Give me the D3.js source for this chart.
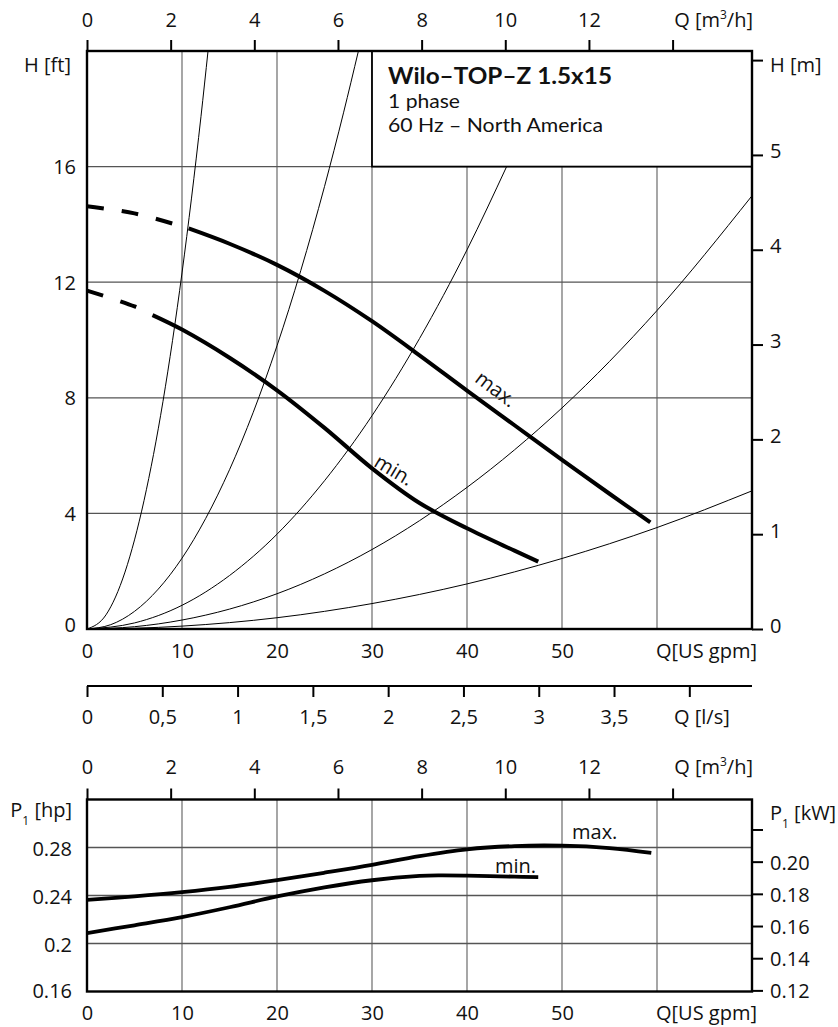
<!DOCTYPE html>
<html><head><meta charset="utf-8">
<script src="https://cdn.jsdelivr.net/npm/d3@7"></script>
<style>
body{margin:0;background:#fff}
svg{display:block;font-family:"Open Sans",sans-serif}
</style></head><body>
<svg id="c" width="838" height="1027"></svg>
<script>
// ---------- data ----------
const gpmLabels=[0,10,20,30,40,50];
const gpmGrid=[10,20,30,40,50,60];
const m3hTicks=[0,2,4,6,8,10,12,14];
const m3hLabels=["0","2","4","6","8","10","12",""];
const lsTicks=[0,0.5,1,1.5,2,2.5,3,3.5,4];
const lsLabels=["0","0,5","1","1,5","2","2,5","3","3,5",""];
const ftTicks=[0,4,8,12,16];
const ftGrid=[4,8,12,16];
const mTicks=[0,1,2,3,4,5,6];
const mLabels=["0","1","2","3","4","5",""];
const hpTicks=[0.16,0.2,0.24,0.28];
const hpGrid=[0.2,0.24,0.28];
const kwTicks=[0.12,0.14,0.16,0.18,0.20,0.22];
const kwLabels=["0.12","0.14","0.16","0.18","0.20",""];
const legendLines=["Wilo–TOP–Z 1.5x15","1 phase","60 Hz – North America"];

// pump head curves (US gpm, ft)
const maxQ=[0,5,10,10.7,15,20,25,30,35,40,45,50,55,59.3];
const maxH=[14.63,14.38,13.93,13.86,13.33,12.6,11.7,10.65,9.47,8.25,7.05,5.85,4.68,3.69];
const maxDashEnd=10.7;
const minQ=[0,5,6.9,10,15,20,25,30,35,40,45,47.5];
const minH=[11.71,11.16,10.86,10.36,9.385,8.26,6.96,5.56,4.36,3.485,2.71,2.33];
const minDashEnd=6.9;

// system curves (US gpm, ft)
const s1Q=[0,2,4,6,8,10,11,12,12.74];
const s1H=[0,0.49,1.97,4.44,7.88,12.32,14.91,17.74,20];
const s2Q=[0,2.5,5,7.5,10,12.5,15,17.5,20,22.5,25,27,28.57];
const s2H=[0,0.15,0.61,1.38,2.45,3.83,5.51,7.5,9.8,12.4,15.31,17.86,20];
const s3Q=[0,5,10,15,20,25,30,35,40,44.17];
const s3H=[0,0.21,0.82,1.85,3.28,5.13,7.38,10.05,13.12,16];
const s4Q=[0,5,10,20,30,40,50,60,70];
const s4H=[0,0.08,0.31,1.22,2.75,4.9,7.65,11.02,14.99];
const s5Q=[0,5,10,20,30,40,50,60,70];
const s5H=[0,0.025,0.1,0.39,0.88,1.56,2.44,3.51,4.78];

// power curves (US gpm, hp)
const pMaxQ=[0,5,10,15,20,25,30,35,40,45,50,55,59.4];
const pMaxP=[0.2364,0.2393,0.2428,0.2472,0.2528,0.259,0.2655,0.2728,0.2785,0.2812,0.2815,0.2795,0.2755];
const pMinQ=[0,5,10,15,20,25,30,35,37,40,45,47.5];
const pMinP=[0.2087,0.2152,0.222,0.2302,0.2392,0.2468,0.2527,0.2563,0.2568,0.2566,0.2557,0.2553];

// ---------- scales ----------
const L=87,R=752;
const UT=51,UB=629, LT=799.5,LB=991.5, LSY=686;
const x=d3.scaleLinear().domain([0,70]).range([L,R]);
const xm3=d3.scaleLinear().domain([0,70*0.22712]).range([L,R]);
const xls=d3.scaleLinear().domain([0,70*0.06309]).range([L,R]);
const yft=d3.scaleLinear().domain([0,20]).range([UB,UT]);
const ym=d3.scaleLinear().domain([0,20*0.3048]).range([UB,UT]);
const yhp=d3.scaleLinear().domain([0.16,0.32]).range([LB,LT]);
const ykw=d3.scaleLinear().domain([0.16*0.7457,0.32*0.7457]).range([LB,LT]);

const svg=d3.select("#c");
const FS=20, INK="#111";
const defs=svg.append("defs");
defs.append("clipPath").attr("id","cu").append("rect").attr("x",L).attr("y",UT).attr("width",R-L).attr("height",UB-UT);
defs.append("clipPath").attr("id","cl").append("rect").attr("x",L).attr("y",LT).attr("width",R-L).attr("height",LB-LT);

function styleAxis(g){
  g.select(".domain").remove();
  g.selectAll(".tick line").attr("stroke","#000").attr("stroke-width",2);
  g.selectAll(".tick text").attr("fill",INK).style("font-size",FS+"px").style("font-family","'Open Sans',sans-serif");
}
function unitLabel(parent,xp,yp,anchor,parts){
  const t=parent.append("text").attr("x",xp).attr("y",yp).attr("text-anchor",anchor)
    .attr("fill",INK).style("font-size",FS+"px");
  parts.forEach(p=>{
    const ts=t.append("tspan").text(p.t);
    if(p.sup){ts.style("font-size","12px").attr("dy",-8);}
    else if(p.sub){ts.style("font-size","12px").attr("dy",8);}
    if(p.back) ts.attr("dy",p.back);
  });
  return t;
}

// ================= UPPER CHART =================
const up=svg.append("g");
up.append("g").selectAll("line").data(gpmGrid).join("line")
  .attr("x1",d=>x(d)).attr("x2",d=>x(d)).attr("y1",UT).attr("y2",UB)
  .attr("stroke","#777").attr("stroke-width",1.3);
up.append("g").selectAll("line").data(ftGrid).join("line")
  .attr("x1",L).attr("x2",R).attr("y1",d=>yft(d)).attr("y2",d=>yft(d))
  .attr("stroke","#555").attr("stroke-width",1.3);

// system curves
const sysLine=d3.line().x(d=>x(d[0])).y(d=>yft(d[1])).curve(d3.curveMonotoneX);
const sysSets=[[s1Q,s1H],[s2Q,s2H],[s3Q,s3H],[s4Q,s4H],[s5Q,s5H]];
up.append("g").attr("clip-path","url(#cu)").selectAll("path").data(sysSets).join("path")
  .attr("d",s=>sysLine(s[0].map((q,i)=>[q,s[1][i]])))
  .attr("fill","none").attr("stroke","#000").attr("stroke-width",1);

// pump curves
const pumpLine=d3.line().x(d=>x(d[0])).y(d=>yft(d[1])).curve(d3.curveCatmullRom.alpha(0.5));
function drawPump(Q,H,dashEnd){
  const pts=Q.map((q,i)=>[q,H[i]]);
  const dash=pts.filter(p=>p[0]<=dashEnd), solid=pts.filter(p=>p[0]>=dashEnd);
  up.append("path").attr("d",pumpLine(dash)).attr("fill","none").attr("stroke","#000")
    .attr("stroke-width",4).attr("stroke-dasharray","17,18");
  up.append("path").attr("d",pumpLine(solid)).attr("fill","none").attr("stroke","#000")
    .attr("stroke-width",4);
}
drawPump(maxQ,maxH,maxDashEnd);
drawPump(minQ,minH,minDashEnd);

up.append("text").attr("transform","translate(496,389) rotate(37)").attr("text-anchor","middle")
  .attr("dy","0.35em").attr("fill",INK).style("font-size",FS+"px").text("max.");
up.append("text").attr("transform","translate(394,470) rotate(31)").attr("text-anchor","middle")
  .attr("dy","0.35em").attr("fill",INK).style("font-size",FS+"px").text("min.");

// legend box
const bx=x(30), by=yft(20);
up.append("rect").attr("x",bx).attr("y",by).attr("width",R-bx).attr("height",yft(16)-by)
  .attr("fill","#fff").attr("stroke","#000").attr("stroke-width",1.8);
up.append("text").attr("x",bx+16).attr("y",84).attr("fill",INK)
  .style("font-family","Lato,sans-serif").style("font-size","22px").style("font-weight","bold")
  .attr("textLength",224).attr("lengthAdjust","spacingAndGlyphs").text(legendLines[0]);
up.append("text").attr("x",bx+16).attr("y",107.5).attr("fill",INK)
  .style("font-family","Lato,sans-serif").style("font-size","19px")
  .attr("textLength",72).attr("lengthAdjust","spacingAndGlyphs").text(legendLines[1]);
up.append("text").attr("x",bx+16).attr("y",132).attr("fill",INK)
  .style("font-family","Lato,sans-serif").style("font-size","19px")
  .attr("textLength",215).attr("lengthAdjust","spacingAndGlyphs").text(legendLines[2]);

// frame
up.append("rect").attr("x",L).attr("y",UT).attr("width",R-L).attr("height",UB-UT)
  .attr("fill","none").attr("stroke","#000").attr("stroke-width",2.4);

// top m3/h axis
up.append("g").attr("transform",`translate(0,${UT})`)
  .call(d3.axisTop(xm3).tickValues(m3hTicks).tickSize(11).tickFormat((d,i)=>m3hLabels[i]))
  .call(styleAxis).call(g=>g.selectAll(".tick text").attr("y",-24.5).attr("dy","0"));
unitLabel(up,753,26.5,"end",[{t:"Q [m"},{t:"3",sup:true},{t:"/h]",back:8}]);

// left ft axis
up.append("g").attr("transform",`translate(${L},0)`)
  .call(d3.axisLeft(yft).tickValues(ftTicks).tickSize(0).tickFormat(d3.format("d")))
  .call(styleAxis)
  .call(g=>g.selectAll(".tick text").attr("x",-11).attr("dy","0").attr("y",d=>d===0?2.7:7));
unitLabel(up,71,71.5,"end",[{t:"H [ft]"}]);

// right m axis
up.append("g").attr("transform",`translate(${R},0)`)
  .call(d3.axisRight(ym).tickValues(mTicks).tickSize(11).tickFormat((d,i)=>mLabels[i]))
  .call(styleAxis)
  .call(g=>g.selectAll(".tick text").attr("x",18).attr("dy","0").attr("y",3));
unitLabel(up,770,72,"start",[{t:"H [m]"}]);

// bottom gpm axis
up.append("g").attr("transform",`translate(0,${UB})`)
  .call(d3.axisBottom(x).tickValues(gpmLabels).tickSize(0).tickFormat(d3.format("d")))
  .call(styleAxis)
  .call(g=>g.selectAll(".tick text").attr("y",29).attr("dy","0"));
unitLabel(up,757,658,"end",[{t:"Q[US gpm]"}]);

// l/s axis
const ls=svg.append("g").attr("transform",`translate(0,${LSY})`)
  .call(d3.axisBottom(xls).tickValues(lsTicks).tickSize(11).tickFormat((d,i)=>lsLabels[i]))
  .call(styleAxis)
  .call(g=>g.selectAll(".tick text").attr("y",38).attr("dy","0"));
ls.append("line").attr("x1",L).attr("x2",R).attr("y1",0).attr("y2",0).attr("stroke","#000").attr("stroke-width",2.2);
unitLabel(svg,674,724,"start",[{t:"Q [l/s]"}]);

// ================= LOWER CHART =================
const lo=svg.append("g");
lo.append("g").selectAll("line").data(gpmGrid).join("line")
  .attr("x1",d=>x(d)).attr("x2",d=>x(d)).attr("y1",LT).attr("y2",LB)
  .attr("stroke","#777").attr("stroke-width",1.3);
lo.append("g").selectAll("line").data(hpGrid).join("line")
  .attr("x1",L).attr("x2",R).attr("y1",d=>yhp(d)).attr("y2",d=>yhp(d))
  .attr("stroke","#555").attr("stroke-width",1.3);

const pLine=d3.line().x(d=>x(d[0])).y(d=>yhp(d[1])).curve(d3.curveCatmullRom.alpha(0.5));
lo.append("g").attr("clip-path","url(#cl)").selectAll("path")
  .data([[pMaxQ,pMaxP],[pMinQ,pMinP]]).join("path")
  .attr("d",s=>pLine(s[0].map((q,i)=>[q,s[1][i]])))
  .attr("fill","none").attr("stroke","#000").attr("stroke-width",3.8);

lo.append("text").attr("x",572).attr("y",839).attr("fill",INK).style("font-size",FS+"px").text("max.");
lo.append("text").attr("x",495).attr("y",872.5).attr("fill",INK).style("font-size",FS+"px").text("min.");

lo.append("rect").attr("x",L).attr("y",LT).attr("width",R-L).attr("height",LB-LT)
  .attr("fill","none").attr("stroke","#000").attr("stroke-width",2.4);

lo.append("g").attr("transform",`translate(0,${LT})`)
  .call(d3.axisTop(xm3).tickValues(m3hTicks).tickSize(11).tickFormat((d,i)=>m3hLabels[i]))
  .call(styleAxis).call(g=>g.selectAll(".tick text").attr("y",-26).attr("dy","0"));
unitLabel(lo,753,773.5,"end",[{t:"Q [m"},{t:"3",sup:true},{t:"/h]",back:8}]);

lo.append("g").attr("transform",`translate(${L},0)`)
  .call(d3.axisLeft(yhp).tickValues(hpTicks).tickSize(0).tickFormat(d=>String(+d.toFixed(2))))
  .call(styleAxis)
  .call(g=>g.selectAll(".tick text").attr("x",-15).attr("dy","0").attr("y",d=>d===0.16?5.5:7.5));
unitLabel(lo,72,817,"end",[{t:"P"},{t:"1",sub:true},{t:" [hp]",back:-8}]);

lo.append("g").attr("transform",`translate(${R},0)`)
  .call(d3.axisRight(ykw).tickValues(kwTicks).tickSize(11).tickFormat((d,i)=>kwLabels[i]))
  .call(styleAxis)
  .call(g=>g.selectAll(".tick text").attr("x",18).attr("dy","0").attr("y",7.5));
unitLabel(lo,770,820,"start",[{t:"P"},{t:"1",sub:true},{t:" [kW]",back:-8}]);

lo.append("g").attr("transform",`translate(0,${LB})`)
  .call(d3.axisBottom(x).tickValues(gpmLabels).tickSize(0).tickFormat(d3.format("d")))
  .call(styleAxis)
  .call(g=>g.selectAll(".tick text").attr("y",28.5).attr("dy","0"));
unitLabel(lo,757,1020,"end",[{t:"Q[US gpm]"}]);
</script>
</body></html>
